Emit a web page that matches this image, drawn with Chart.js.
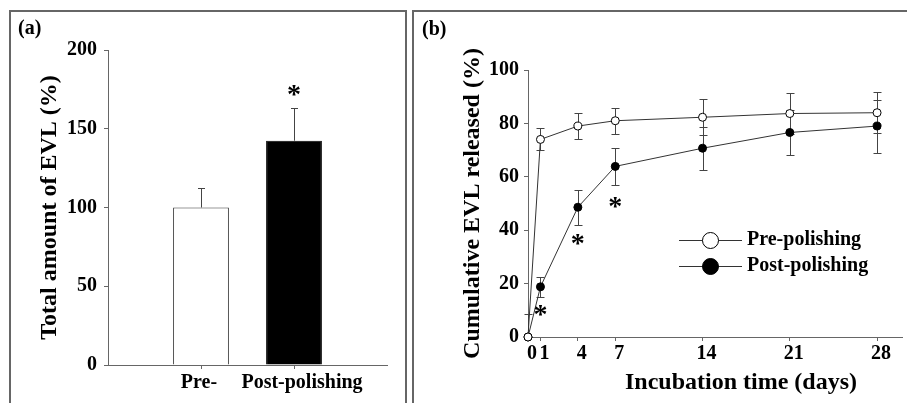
<!DOCTYPE html>
<html><head><meta charset="utf-8">
<script src="https://cdn.jsdelivr.net/npm/chart.js@4"></script>
<style>
html,body{margin:0;padding:0;background:#fff;width:907px;height:403px;overflow:hidden}
body{position:relative}
.box{position:absolute;border:2px solid #666;box-sizing:border-box}
canvas{position:absolute;top:0}
</style></head><body>
<div class="box" style="left:9px;top:10px;width:398px;height:420px"></div>
<div class="box" style="left:412px;top:10px;width:530px;height:420px"></div>
<canvas id="ca" width="410" height="403" style="left:0"></canvas>
<canvas id="cb" width="497" height="403" style="left:410px"></canvas>
<script>
// ---------- Panel (a) data ----------
const barCategories = ['Pre-', 'Post-polishing'];
const barPositions = [1, 2];
const barValues = [100, 142.4];
const barErrors = [12.2, 20.8];
const barYTicks = [0, 50, 100, 150, 200];
const barStarX = [2];
const barStarY = [174.6];
const panelALabel = '(a)';
const panelAYTitle = 'Total amount of EVL (%)';

// ---------- Panel (b) data ----------
const days = [0, 1, 4, 7, 14, 21, 28];
const prePolishing = [0, 74.0, 79.0, 81.0, 82.3, 83.7, 84.0];
const prePolishingErr = [0, 4.1, 5.0, 4.9, 6.7, 7.5, 7.6];
const postPolishing = [0, 18.8, 48.6, 63.9, 70.7, 76.6, 79.0];
const postPolishingErr = [8.7, 3.7, 6.6, 6.8, 8.0, 8.4, 9.9];
const releaseYTicks = [0, 20, 40, 60, 80, 100];
const starDays = [1, 4, 7];
const starValues = [10.1, 36.7, 50.6];
const seriesNames = ['Pre-polishing', 'Post-polishing'];
const panelBLabel = '(b)';
const panelBYTitle = 'Cumulative EVL released (%)';
const panelBXTitle = 'Incubation time (days)';

const FONT = '"Liberation Serif","Times New Roman",serif';
Chart.defaults.color = '#000';
Chart.defaults.font.family = FONT;
Chart.defaults.font.weight = 'bold';
const AX = '#666';

function star(ctx, x, y) {
  ctx.save();
  ctx.font = 'bold 28px ' + FONT;
  ctx.fillStyle = '#000';
  ctx.textAlign = 'center';
  ctx.textBaseline = 'alphabetic';
  ctx.fillText('*', x, y + 13);
  ctx.restore();
}

// ---------- Panel (a) chart ----------
const plugA = {
  id: 'plugA',
  afterDatasetsDraw(chart) {
    const ctx = chart.ctx, xs = chart.scales.x, ys = chart.scales.y;
    ctx.save();
    ctx.strokeStyle = '#444';
    ctx.lineWidth = 1;
    barValues.forEach((v, i) => {
      const px = Math.round(xs.getPixelForValue(barPositions[i])) + 0.5;
      const y0 = ys.getPixelForValue(v);
      const y1 = Math.round(ys.getPixelForValue(v + barErrors[i])) + 0.5;
      ctx.beginPath();
      ctx.moveTo(px, y0); ctx.lineTo(px, y1);
      ctx.moveTo(px - 3.5, y1); ctx.lineTo(px + 3.5, y1);
      ctx.stroke();
    });
    ctx.restore();
    barStarX.forEach((sx, i) => star(ctx, xs.getPixelForValue(sx), ys.getPixelForValue(barStarY[i])));
    // category labels
    ctx.save();
    ctx.font = 'bold 20px ' + FONT;
    ctx.fillStyle = '#000';
    ctx.textAlign = 'center';
    ctx.textBaseline = 'middle';
    const offs = [-2, 8];
    barCategories.forEach((c, i) => {
      ctx.fillText(c, xs.getPixelForValue(barPositions[i]) + offs[i], xs.top + 18);
    });
    ctx.font = 'bold 20px ' + FONT;
    ctx.textAlign = 'left';
    ctx.fillText(panelALabel, 18, 29);
    ctx.restore();
  }
};

new Chart(document.getElementById('ca'), {
  type: 'bar',
  data: {
    datasets: [{
      data: barPositions.map((p, i) => ({x: p, y: barValues[i]})),
      backgroundColor: ['#fff', '#000'],
      borderColor: ['#333', '#000'],
      borderWidth: 1,
      barPercentage: 0.6,
      categoryPercentage: 1.0
    }]
  },
  options: {
    responsive: false,
    animation: false,
    layout: {padding: {left: 0, top: 50, right: 23, bottom: 0}},
    plugins: {legend: {display: false}, tooltip: {enabled: false}},
    scales: {
      x: {
        type: 'linear', min: 0, max: 3, offset: false,
        afterBuildTicks: s => { s.ticks = barPositions.map(v => ({value: v})); },
        afterFit: s => { s.height = 38; },
        grid: {offset: false, drawOnChartArea: false, drawTicks: true, tickLength: 4, color: AX},
        border: {display: true, color: AX, width: 1},
        ticks: {display: false}
      },
      y: {
        min: 0, max: 200,
        afterBuildTicks: s => { s.ticks = barYTicks.map(v => ({value: v})); },
        afterFit: s => { s.width = 108; },
        grid: {drawOnChartArea: false, drawTicks: true, tickLength: 4, color: AX},
        border: {display: true, color: AX, width: 1},
        ticks: {font: {size: 20, weight: 'bold', family: FONT}, padding: 7, color: '#000'},
        title: {display: true, text: panelAYTitle, font: {size: 24, weight: 'bold', family: FONT}, padding: {top: 35.6, bottom: 0}, color: '#000'}
      }
    }
  },
  plugins: [plugA]
});

// ---------- Panel (b) chart ----------
const plugB = {
  id: 'plugB',
  beforeDatasetsDraw(chart) {
    const ctx = chart.ctx, xs = chart.scales.x, ys = chart.scales.y, a = chart.chartArea;
    ctx.save();
    ctx.beginPath();
    ctx.rect(a.left - 10, a.top - 10, a.right - a.left + 20, a.bottom - a.top + 10);
    ctx.clip();
    ctx.strokeStyle = '#444';
    ctx.lineWidth = 1;
    const drawErr = (vals, errs) => {
      vals.forEach((v, i) => {
        if (!errs[i]) return;
        const px = Math.round(xs.getPixelForValue(days[i])) + 0.5;
        const yt = Math.round(ys.getPixelForValue(v + errs[i])) + 0.5;
        const yb = Math.round(ys.getPixelForValue(v - errs[i])) + 0.5;
        const bottom = Math.min(yb, a.bottom);
        ctx.beginPath();
        ctx.moveTo(px, yt); ctx.lineTo(px, bottom);
        ctx.moveTo(px - 4, yt); ctx.lineTo(px + 4, yt);
        if (yb <= a.bottom) { ctx.moveTo(px - 4, yb); ctx.lineTo(px + 4, yb); }
        ctx.stroke();
      });
    };
    drawErr(prePolishing, prePolishingErr);
    drawErr(postPolishing, postPolishingErr);
    ctx.restore();
  },
  afterDatasetsDraw(chart) {
    const ctx = chart.ctx, xs = chart.scales.x, ys = chart.scales.y;
    starDays.forEach((d, i) => star(ctx, xs.getPixelForValue(d), ys.getPixelForValue(starValues[i])));
    ctx.save();
    // legend
    const lx0 = 269, lx1 = 332, cx = 300.5, rows = [240, 266];
    rows.forEach((ry, i) => {
      ctx.strokeStyle = '#333';
      ctx.lineWidth = 1;
      ctx.beginPath();
      ctx.moveTo(lx0, ry + 0.5); ctx.lineTo(lx1, ry + 0.5);
      ctx.stroke();
      ctx.beginPath();
      ctx.arc(cx, ry + 0.5, 8, 0, Math.PI * 2);
      ctx.fillStyle = i === 0 ? '#fff' : '#000';
      ctx.fill();
      ctx.strokeStyle = '#000';
      ctx.stroke();
      ctx.fillStyle = '#000';
      ctx.font = 'bold 20px ' + FONT;
      ctx.textAlign = 'left';
      ctx.textBaseline = 'middle';
      ctx.fillText(seriesNames[i], 337, ry);
    });
    // x title
    ctx.font = 'bold 24px ' + FONT;
    ctx.textAlign = 'center';
    ctx.textBaseline = 'middle';
    ctx.fillText(panelBXTitle, 331, 383);
    // panel label
    ctx.font = 'bold 20px ' + FONT;
    ctx.textAlign = 'left';
    ctx.fillText(panelBLabel, 12, 30);
    ctx.restore();
  }
};

new Chart(document.getElementById('cb'), {
  type: 'line',
  data: {
    datasets: [{
      label: seriesNames[0],
      data: days.map((d, i) => ({x: d, y: prePolishing[i]})),
      borderColor: '#333', borderWidth: 1, tension: 0,
      pointRadius: 4, pointBackgroundColor: '#fff', pointBorderColor: '#000', pointBorderWidth: 1,
      clip: false
    }, {
      label: seriesNames[1],
      data: days.map((d, i) => ({x: d, y: postPolishing[i]})),
      borderColor: '#333', borderWidth: 1, tension: 0,
      pointRadius: 4, pointBackgroundColor: '#000', pointBorderColor: '#000', pointBorderWidth: 1,
      clip: false
    }]
  },
  options: {
    responsive: false,
    animation: false,
    layout: {padding: {left: 0, top: 70, right: 1, bottom: 0}},
    plugins: {legend: {display: false}, tooltip: {enabled: false}},
    scales: {
      x: {
        type: 'linear', min: 0, max: 30,
        afterBuildTicks: s => { s.ticks = days.map(v => ({value: v})); },
        afterFit: s => { s.height = 66; },
        grid: {drawOnChartArea: false, drawTicks: true, tickLength: 4, color: AX},
        border: {display: true, color: AX, width: 1},
        ticks: {font: {size: 20, weight: 'bold', family: FONT}, padding: 1, labelOffset: 4, autoSkip: false, maxRotation: 0, color: '#000'}
      },
      y: {
        min: 0, max: 100,
        afterBuildTicks: s => { s.ticks = releaseYTicks.map(v => ({value: v})); },
        afterFit: s => { s.width = 118; },
        grid: {drawOnChartArea: false, drawTicks: true, tickLength: 4, color: AX},
        border: {display: true, color: AX, width: 1},
        ticks: {font: {size: 20, weight: 'bold', family: FONT}, padding: 5, color: '#000'},
        title: {display: true, text: panelBYTitle, font: {size: 24, weight: 'bold', family: FONT}, padding: {top: 48.6, bottom: 0}, color: '#000'}
      }
    }
  },
  plugins: [plugB]
});
</script>
</body></html>
